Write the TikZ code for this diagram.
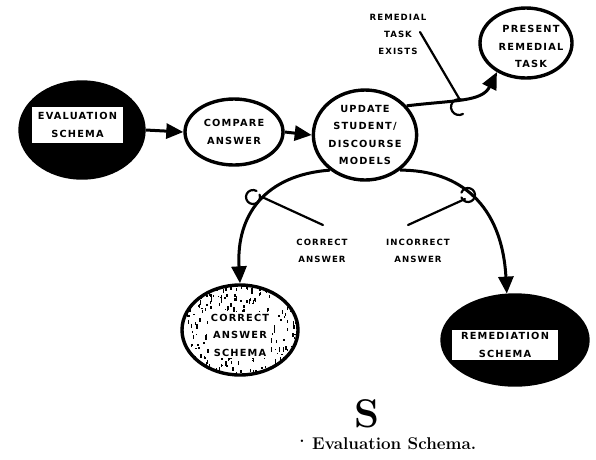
\documentclass[tikz,border=0pt]{standalone}
\usepackage{fontspec}
\newfontfamily\labfont[LetterSpace=12]{DejaVu Sans}
\newfontfamily\tagfontfam[LetterSpace=12]{DejaVu Sans}
\usetikzlibrary{arrows.meta,shapes.geometric}
\newcommand\blockfont{\labfont\bfseries\fontsize{9.8}{17.5}\selectfont}
\newcommand\tagfont{\tagfontfam\bfseries\fontsize{8.6}{17}\selectfont}
\tikzset{
  bubble/.style={ellipse, draw, line width=3.4pt, inner sep=0pt, fill=white},
  darkbubble/.style={bubble, fill=black},
  plate/.style={rectangle, fill=white, inner sep=0pt, font=\blockfont, align=center},
  caption/.style={font=\blockfont, align=center, inner sep=0pt},
  conn/.style={line width=3pt, -{Triangle[length=17pt,width=15pt]}},
  pointer/.style={line width=2.2pt, line cap=round},
  tag/.style={font=\tagfont, align=center, inner sep=0pt}
}
\begin{document}
\begin{tikzpicture}[x=1pt,y=-1pt]
\useasboundingbox (0,0) rectangle (596,459);

% schema and step bubbles
\node[darkbubble, minimum width=124pt, minimum height=96pt] (eval) at (82,130) {};
\node[plate, minimum width=91pt, minimum height=36pt] (evallbl) at (77.5,125) {EVALUATION\\SCHEMA};

\node[bubble, minimum width=98pt, minimum height=66pt, font=\blockfont, align=center] (cmp) at (234,132) {COMPARE\\ANSWER};

\node[bubble, minimum width=94pt, minimum height=90pt, font=\blockfont, align=center] (upd) at (365,135) {UPDATE\\STUDENT/\\DISCOURSE\\MODELS};

\node[bubble, minimum width=92pt, minimum height=70pt] (prs) at (526,43) {};
\node[caption] (prslbl) at (531,46.5) {PRESENT\\REMEDIAL\\TASK};

\node[bubble, minimum width=116pt, minimum height=90pt] (cor) at (240,330) {};
\begin{scope}
  \clip (240,330) ellipse [x radius=57, y radius=44];
  \pgfmathsetseed{42}
  \foreach \k in {1,...,300}{
    \pgfmathsetmacro\px{182+116*rnd}
    \pgfmathsetmacro\py{285+90*rnd}
    \pgfmathsetmacro\pl{1+4*rnd}
    \fill (\px,\py) rectangle ++(1.4,\pl);
  }
\end{scope}
\node[plate, inner sep=2pt] (corlbl) at (240,335) {CORRECT\\ANSWER\\SCHEMA};

\node[darkbubble, minimum width=146pt, minimum height=90pt] (rem) at (515,340) {};
\node[plate, minimum width=106pt, minimum height=30pt] (remlbl) at (505,345) {REMEDIATION\\SCHEMA};

% flow between the steps
\draw[conn] (eval.east) -- (cmp.west);
\draw[conn] (cmp.east) -- (upd.west);
\draw[conn] (upd.35) .. controls (455,100) and (482,102) .. (prs.225);
\draw[conn] (upd.225) .. controls (265,175) and (236,215) .. (cor.north);
\draw[conn] (upd.-45) .. controls (460,170) and (502,205) .. (rem.100);

% condition tags with their pointers
\node[tag] (tremedial) at (398,34) {REMEDIAL\\TASK\\EXISTS};
\node[tag] (tcorrect) at (322,250.5) {CORRECT\\ANSWER};
\node[tag] (tincorrect) at (418,250.5) {INCORRECT\\ANSWER};

\coordinate (kremedial) at (460,100);
\coordinate (kcorrect) at (262,197);
\coordinate (kincorrect) at (465,199);
\coordinate (premedial) at (420,32);
\coordinate (pcorrect) at (323,225);
\coordinate (pincorrect) at (408,225);

\draw[pointer] (premedial) -- (kremedial);
\draw[pointer] (pcorrect) -- (kcorrect);
\draw[pointer] (pincorrect) -- (kincorrect);
\draw[pointer] (459,107) ++(60:8) arc[start angle=60, end angle=300, radius=8];
\draw[pointer] (253,197) ++(-20:7) arc[start angle=-20, end angle=300, radius=7];
\draw[pointer] (468,195) ++(-160:7) arc[start angle=-160, end angle=160, radius=7];

% figure caption
\node[font=\bfseries\fontsize{40}{40}\selectfont, inner sep=0pt] (fignum) at (367,414) {S};
\node[font=\bfseries\fontsize{17}{19}\selectfont, inner sep=0pt] (dot) at (302,441) {.};
\node[font=\bfseries\fontsize{17}{19}\selectfont, inner sep=0pt, anchor=west] (figtitle) at (312,444) {Evaluation Schema.};
\end{tikzpicture}
\end{document}
